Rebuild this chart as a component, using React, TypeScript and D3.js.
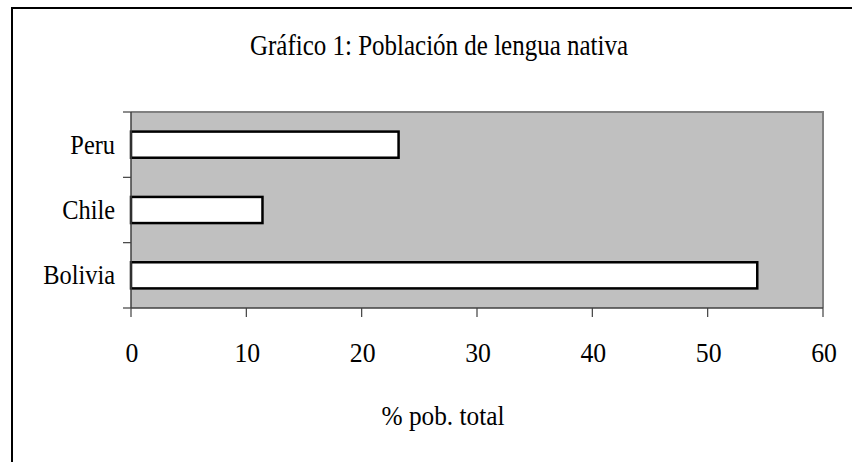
import React from "react";
import * as d3 from "d3";

const categories = ["Peru", "Chile", "Bolivia"];
const values = [23.2, 11.4, 54.3];
const xTicks = [0, 10, 20, 30, 40, 50, 60];
const titleText = "Gráfico 1: Población de lengua nativa";
const xAxisTitle = "% pob. total";

const W = 852;
const H = 462;
const plot = { left: 131, top: 112, right: 823, bottom: 308 };
const font = "'Liberation Serif', serif";

function CText(props: { x: number; y: number; anchor: string; size: number; sx: number; children: React.ReactNode }) {
  return (
    <g transform={`translate(${props.x},${props.y}) scale(${props.sx},1)`}>
      <text x={0} y={0} textAnchor={props.anchor} style={{ fontFamily: font, fontSize: props.size }} fill="#000">
        {props.children}
      </text>
    </g>
  );
}

export default function App() {
  const x = d3.scaleLinear().domain([0, 60]).range([plot.left, plot.right]);
  const y = d3
    .scaleBand<string>()
    .domain(categories)
    .range([plot.top, plot.bottom])
    .paddingInner(0.6)
    .paddingOuter(0.3);
  const yTickPos = d3
    .range(categories.length + 1)
    .map((i) => plot.top + i * ((plot.bottom - plot.top) / categories.length));

  return (
    <svg width={W} height={H} style={{ position: "fixed", left: 0, top: 0, background: "#fff" }}>
      <rect x={0} y={0} width={W} height={H} fill="#fff" />
      {/* outer chart frame */}
      <rect x={12} y={8} width={W + 20} height={H + 20} fill="#fff" stroke="#000" strokeWidth={2} />
      {/* title */}
      <text
        x={439}
        y={55}
        textAnchor="middle"
        style={{ fontFamily: font, fontSize: 30 }}
        textLength={378}
        lengthAdjust="spacingAndGlyphs"
        fill="#000"
      >
        {titleText}
      </text>
      {/* plot area */}
      <rect
        x={plot.left}
        y={plot.top}
        width={plot.right - plot.left}
        height={plot.bottom - plot.top}
        fill="#C0C0C0"
      />
      <line x1={plot.left} x2={plot.right + 1} y1={plot.top} y2={plot.top} stroke="#808080" strokeWidth={2} />
      <line x1={plot.right} x2={plot.right} y1={plot.top} y2={plot.bottom} stroke="#808080" strokeWidth={2} />
      {/* bars */}
      {categories.map((c, i) => (
        <rect
          key={c}
          x={x(0)}
          y={y(c)!}
          width={x(values[i]) - x(0)}
          height={y.bandwidth()}
          fill="#fff"
          stroke="#000"
          strokeWidth={2.5}
        />
      ))}
      {/* y axis */}
      <line x1={plot.left} x2={plot.left} y1={plot.top} y2={plot.bottom} stroke="#404040" strokeWidth={1.5} />
      {yTickPos.map((p, i) => (
        <line key={i} x1={plot.left - 8} x2={plot.left} y1={p} y2={p} stroke="#404040" strokeWidth={1.2} />
      ))}
      {categories.map((c) => (
        <CText key={c} x={115} y={y(c)! + y.bandwidth() / 2 + 9} anchor="end" size={28} sx={0.87}>
          {c}
        </CText>
      ))}
      {/* x axis */}
      <line x1={plot.left} x2={plot.right} y1={plot.bottom} y2={plot.bottom} stroke="#404040" strokeWidth={1.5} />
      {xTicks.map((t) => (
        <g key={t}>
          <line x1={x(t)} x2={x(t)} y1={plot.bottom} y2={plot.bottom + 9} stroke="#404040" strokeWidth={1.2} />
          <CText x={x(t) + 1} y={362} anchor="middle" size={28} sx={0.92}>
            {t}
          </CText>
        </g>
      ))}
      <text
        x={443}
        y={425}
        textAnchor="middle"
        style={{ fontFamily: font, fontSize: 27 }}
        textLength={123}
        lengthAdjust="spacingAndGlyphs"
        fill="#000"
      >
        {xAxisTitle}
      </text>
    </svg>
  );
}
